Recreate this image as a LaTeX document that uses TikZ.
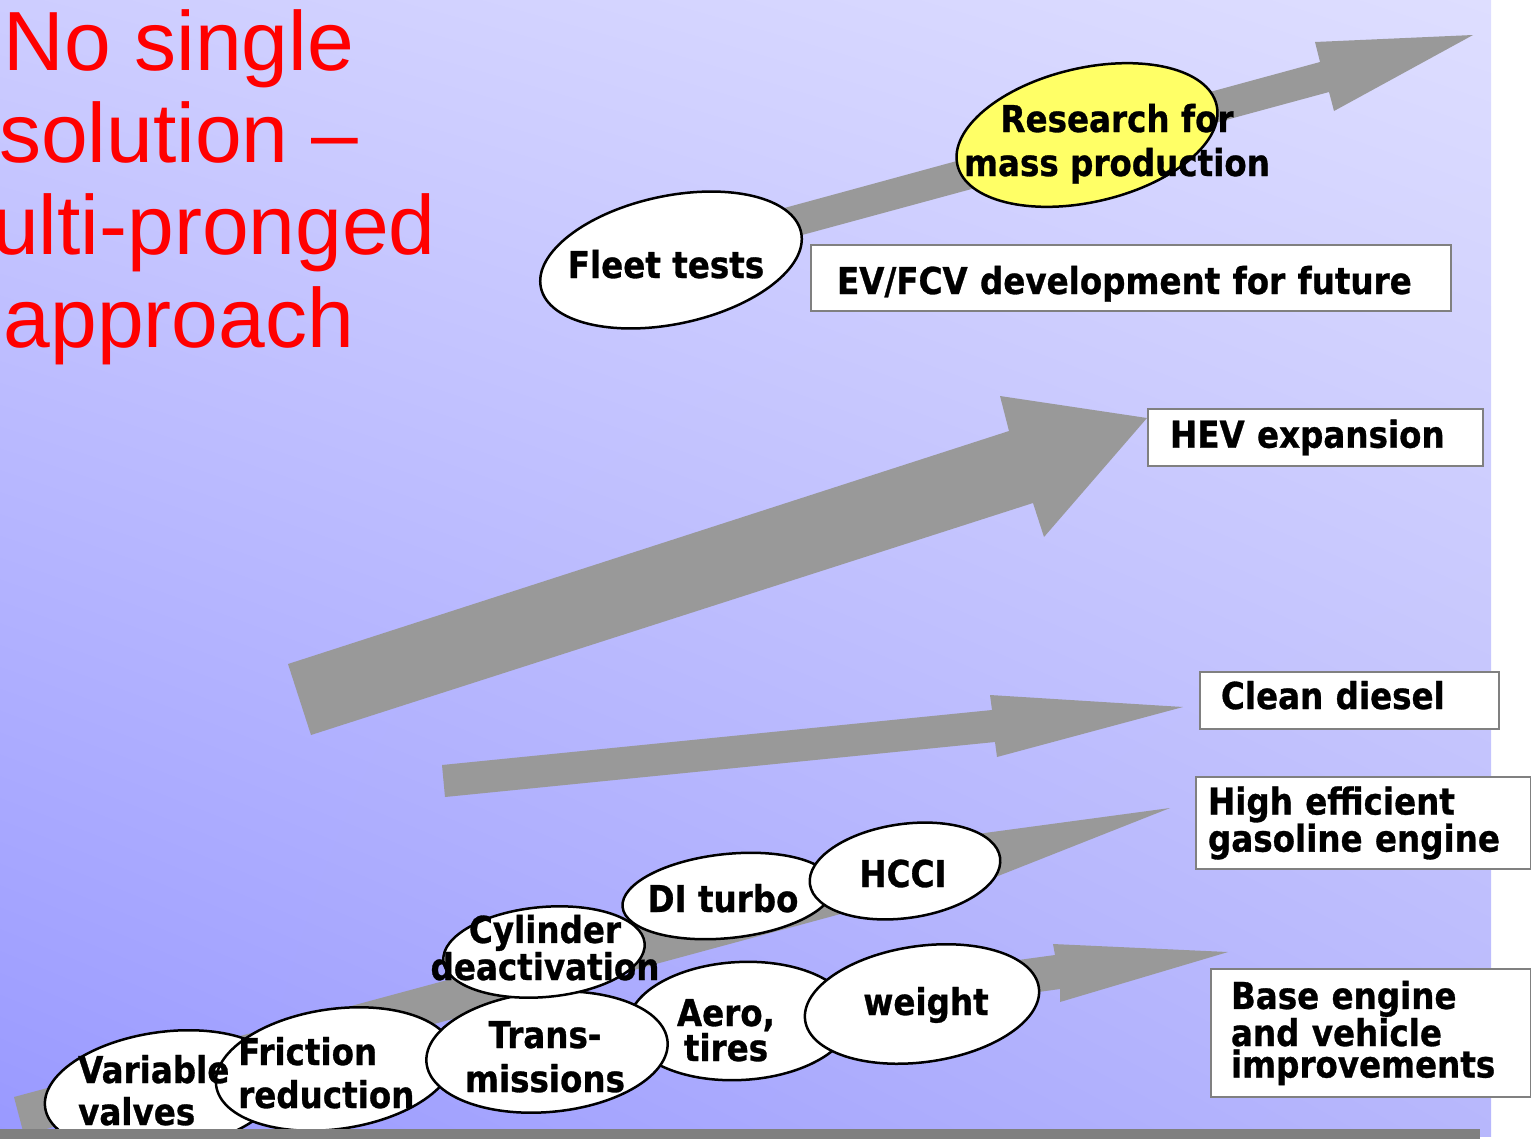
\documentclass[tikz,border=0pt]{standalone}
\usepackage{fontspec}
\setmainfont{Liberation Sans}
\newfontfamily\lblfont[FakeStretch=0.88, BoldFeatures={FakeBold=0.8}]{DejaVu Sans}
\usetikzlibrary{shapes.geometric,shadings}
\definecolor{bgLL}{RGB}{153,153,255}
\definecolor{bgUL}{RGB}{205,205,255}
\definecolor{bgUR}{RGB}{222,222,255}
\definecolor{bgLR}{RGB}{183,183,252}
\definecolor{prongGray}{RGB}{153,153,153}
\definecolor{boxGray}{RGB}{128,128,128}
\definecolor{pastelYellow}{RGB}{255,255,102}

\begin{document}
\begin{tikzpicture}[x=1pt,y=-1pt,
    bubble/.style={ellipse, draw=black, line width=2.5pt, fill=white, inner sep=0pt},
    lbl/.style={font=\lblfont\bfseries\fontsize{37}{#1}\selectfont, inner sep=0pt},
    lbl/.default=44,
    panel/.style={draw=boxGray, line width=2pt, fill=white, anchor=north west, align=left,
        inner ysep=0pt, font=\lblfont\bfseries\fontsize{37}{31.5}\selectfont},
    prong/.style={fill=prongGray}]
    \useasboundingbox (0,0) rectangle (1531,1138);
    \shade[upper left=bgUL, upper right=bgUR, lower left=bgLL, lower right=bgLR] (0,0) rectangle (1491,1136);

    % arrows
    \fill[prong] (700,231) -- (1320,62) -- (1315,42) -- (1473,35) -- (1334,111) -- (1329,92) -- (710,260) -- cycle;
    \fill[prong] (288,664) -- (1009,431) -- (1000,396) -- (1147,418) -- (1044,537) -- (1033,503) -- (311,735) -- cycle;
    \fill[prong] (442,765) -- (992,710) -- (990,695) -- (1183,707) -- (997,757) -- (995,742) -- (445,797) -- cycle;
    \fill[prong] (14,1097) -- (955,843) -- (955,837) -- (1170,808) -- (955,893) -- (955,883) -- (24,1135) -- cycle;
    \fill[prong] (850,983) -- (1055,955) -- (1053,944) -- (1228,952) -- (1060,1002) -- (1060,989) -- (850,1018) -- cycle;

    % ellipses
    \node[bubble, minimum width=240, minimum height=118, rotate=8] (variable) at (164,1091) {};
    \node[bubble, minimum width=240, minimum height=120, rotate=8] (friction) at (335,1069) {};
    \node[bubble, minimum width=224, minimum height=118, rotate=3] (aero) at (740,1021) {};
    \node[bubble, minimum width=242, minimum height=120, rotate=5] (trans) at (547,1052) {};
    \node[bubble, minimum width=236, minimum height=116, rotate=8] (weight) at (922,1004) {};
    \node[bubble, minimum width=202, minimum height=90, rotate=5] (cylinder) at (544,952) {};
    \node[bubble, minimum width=212, minimum height=84, rotate=6] (diturbo) at (728,896) {};
    \node[bubble, minimum width=192, minimum height=94, rotate=8] (hcci) at (905,871) {};
    \node[bubble, minimum width=266, minimum height=128, rotate=12] (fleet) at (671,260) {};
    \node[bubble, fill=pastelYellow, minimum width=266, minimum height=134, rotate=13] (research) at (1087,135) {};

    \fill[boxGray] (0,1129) rectangle (1480,1150);

    % texts
    \node[lbl] (fleet-t) at (666,278) [anchor=base] {Fleet tests};
    \node[lbl=44, align=center, anchor=base] (research-t) at (1117,176) {Research for\\mass production};
    \node[lbl, anchor=base] (hcci-t) at (903,887) {HCCI};
    \node[lbl, anchor=base] (diturbo-t) at (723,912) {DI turbo};
    \node[lbl=35, align=center, anchor=base] (cylinder-t) at (545,980) {Cylinder\\deactivation};
    \node[lbl=42, align=left, anchor=base west] (variable-t) at (78,1125) {Variable\\valves};
    \node[lbl=43, align=left, anchor=base west] (friction-t) at (238,1108) {Friction\\reduction};
    \node[lbl=44, align=center, anchor=base] (trans-t) at (545,1092) {Trans-\\missions};
    \node[lbl=35, align=center, anchor=base] (aero-t) at (726,1061) {Aero,\\tires};
    \node[lbl, anchor=base] (weight-t) at (926,1015) {weight};

    % boxes
    \node[panel, inner xsep=26, text width=588, minimum height=66, text height=32, text depth=0] (evbox) at (810,244) {EV/FCV development for future};
    \node[panel, inner xsep=22, text width=291, minimum height=57] (hevbox) at (1147,408) {HEV expansion};
    \node[panel, inner xsep=21, text width=257, minimum height=57, text height=27, text depth=10] (dieselbox) at (1199,671) {Clean diesel};
    \node[panel, inner xsep=12, text width=311, minimum height=92] (gasbox) at (1195,776) {High efficient\\gasoline engine};
    \node[panel, inner xsep=20, text width=280, minimum height=128] (basebox) at (1210,968) {Base engine\\and vehicle\\improvements};

    \node[font=\fontsize{84}{92.3}\selectfont, text=red, align=center, anchor=base, inner sep=0pt] (motto) at (179,347)
        {No single\\solution –\\\hphantom{M}ulti-pronged\\approach};
\end{tikzpicture}
\end{document}
